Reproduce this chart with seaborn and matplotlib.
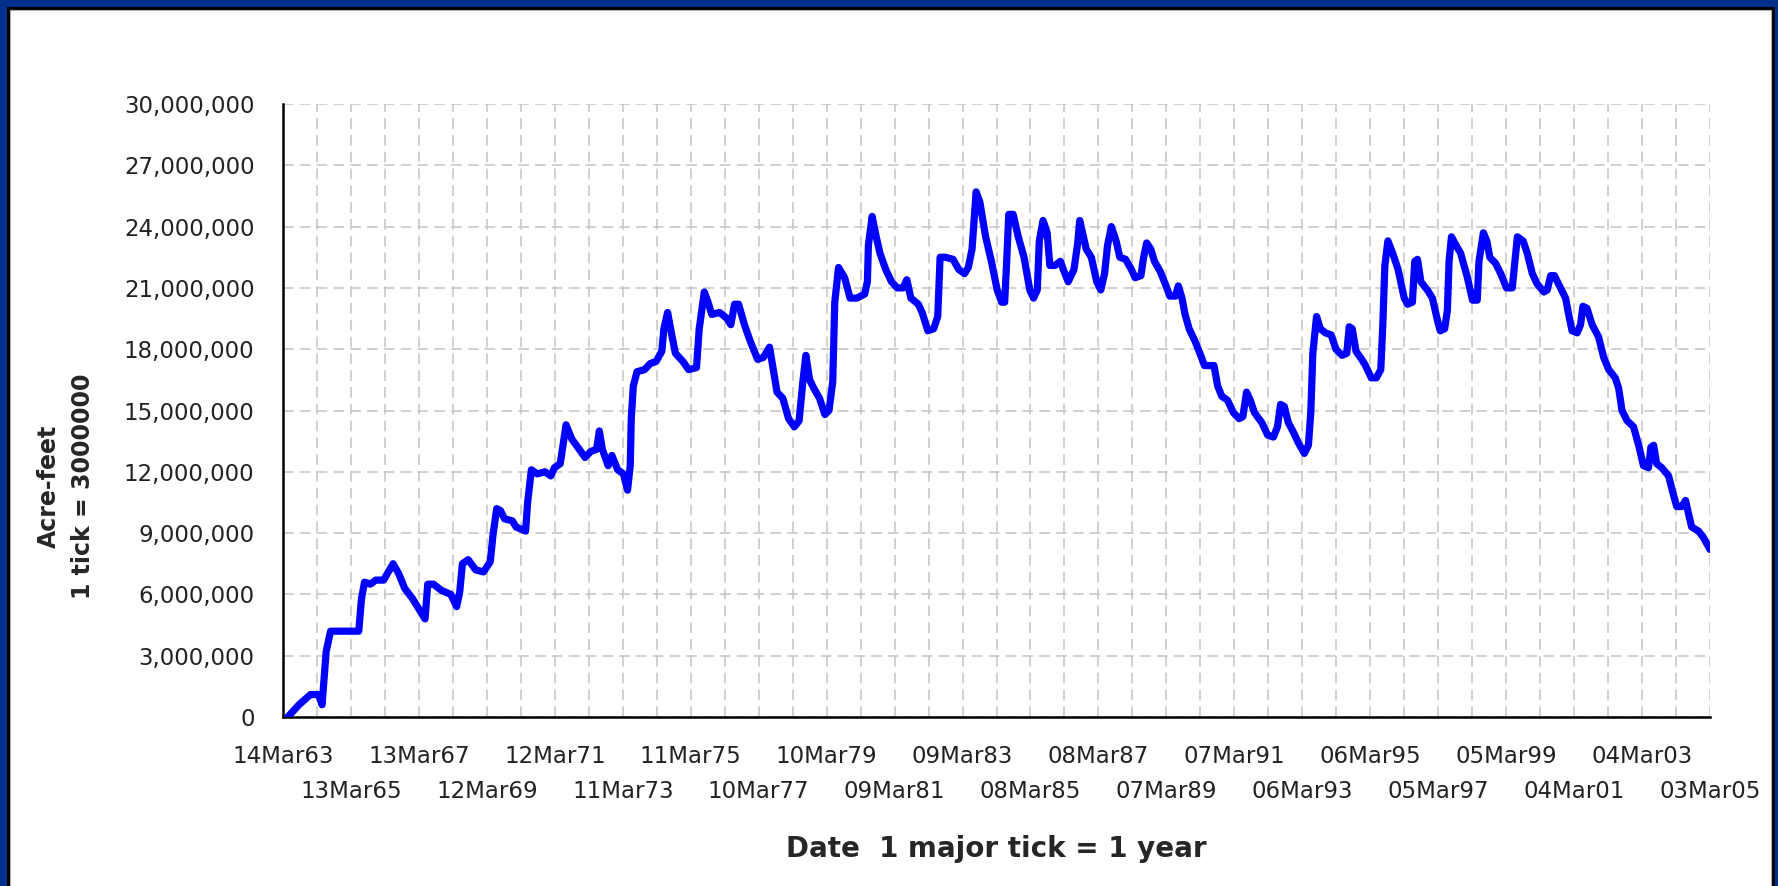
import numpy as np
import pandas as pd
import matplotlib
matplotlib.use("Agg")
import matplotlib.pyplot as plt
import matplotlib.dates as mdates
import matplotlib.ticker as ticker
from matplotlib.patches import Rectangle
import seaborn as sns

# Datos: años desde 14Mar63 y acre-feet (millones)
inicio = "1963-03-14"
anios = [0.14, 0.47, 0.81, 1.04, 1.15, 1.21, 1.27, 1.40, 2.23, 2.31, 2.40, 2.57, 2.73, 2.96,
         3.24, 3.41, 3.58, 3.81, 4.03, 4.18, 4.26, 4.43, 4.66, 4.94, 5.11, 5.20, 5.28, 5.45,
         5.67, 5.90, 6.10, 6.18, 6.29, 6.40, 6.52, 6.75, 6.86, 7.14, 7.20, 7.31, 7.48, 7.71,
         7.88, 7.99, 8.16, 8.33, 8.50, 8.72, 8.89, 9.06, 9.23, 9.31, 9.40, 9.57, 9.68, 9.85,
         10.02, 10.14, 10.22, 10.25, 10.31, 10.42, 10.64, 10.81, 10.98, 11.15, 11.21, 11.32,
         11.43, 11.55, 11.77, 11.94, 12.17, 12.25, 12.40, 12.51, 12.62, 12.85, 13.07, 13.18,
         13.29, 13.41, 13.58, 13.75, 13.97, 14.14, 14.32, 14.43, 14.54, 14.71, 14.88, 15.05,
         15.19, 15.30, 15.39, 15.50, 15.62, 15.79, 15.95, 16.07, 16.18, 16.24, 16.35, 16.53,
         16.69, 16.89, 17.12, 17.20, 17.23, 17.34, 17.46, 17.57, 17.74, 17.91, 18.08, 18.25,
         18.36, 18.48, 18.70, 18.81, 18.98, 19.15, 19.27, 19.34, 19.49, 19.72, 19.89, 20.06,
         20.17, 20.28, 20.40, 20.51, 20.68, 20.85, 21.02, 21.15, 21.24, 21.30, 21.36, 21.49,
         21.64, 21.81, 21.98, 22.09, 22.20, 22.26, 22.37, 22.49, 22.57, 22.72, 22.88, 22.99,
         23.11, 23.28, 23.39, 23.45, 23.56, 23.64, 23.79, 23.95, 24.07, 24.18, 24.27, 24.38,
         24.52, 24.63, 24.80, 24.97, 25.08, 25.25, 25.33, 25.42, 25.54, 25.65, 25.82, 25.99,
         26.10, 26.27, 26.35, 26.46, 26.55, 26.67, 26.84, 27.01, 27.12, 27.40, 27.51, 27.63,
         27.80, 27.97, 28.14, 28.25, 28.36, 28.47, 28.59, 28.81, 28.98, 29.15, 29.27, 29.36,
         29.47, 29.59, 29.72, 29.89, 30.06, 30.18, 30.25, 30.31, 30.42, 30.53, 30.68, 30.85,
         30.99, 31.17, 31.31, 31.38, 31.47, 31.58, 31.75, 31.86, 32.03, 32.18, 32.31, 32.37,
         32.43, 32.52, 32.66, 32.82, 33.00, 33.10, 33.24, 33.31, 33.39, 33.49, 33.68, 33.83,
         33.98, 34.06, 34.19, 34.27, 34.32, 34.39, 34.52, 34.66, 34.86, 35.01, 35.15, 35.20,
         35.33, 35.43, 35.52, 35.69, 35.84, 36.01, 36.18, 36.28, 36.33, 36.50, 36.62, 36.77,
         36.91, 37.11, 37.21, 37.31, 37.42, 37.60, 37.75, 37.84, 37.94, 38.09, 38.19, 38.26,
         38.38, 38.53, 38.72, 38.87, 39.02, 39.21, 39.31, 39.41, 39.56, 39.75, 39.90, 40.04,
         40.19, 40.26, 40.34, 40.43, 40.58, 40.78, 40.92, 41.02, 41.17, 41.28, 41.36, 41.46,
         41.66, 41.80, 42.00]
millones = [0.0, 0.6, 1.1, 1.1, 0.6, 1.9, 3.2, 4.2, 4.2, 5.8, 6.6, 6.5, 6.7, 6.7,
            7.5, 7.0, 6.3, 5.8, 5.2, 4.8, 6.5, 6.5, 6.2, 6.0, 5.4, 6.1, 7.5, 7.7,
            7.2, 7.1, 7.6, 8.9, 10.2, 10.1, 9.7, 9.6, 9.3, 9.1, 10.5, 12.1, 11.9, 12.0,
            11.8, 12.2, 12.4, 14.3, 13.6, 13.1, 12.7, 13.0, 13.1, 14.0, 13.1, 12.3, 12.8, 12.1,
            11.9, 11.1, 12.3, 14.6, 16.2, 16.9, 17.0, 17.3, 17.4, 17.9, 19.0, 19.8,
            18.8, 17.8, 17.4, 17.0, 17.1, 19.0, 20.8, 20.3, 19.7, 19.8, 19.5, 19.2,
            20.2, 20.2, 19.2, 18.4, 17.5, 17.6, 18.1, 17.0, 15.9, 15.6, 14.6, 14.2,
            14.5, 16.4, 17.7, 16.5, 16.1, 15.6, 14.8, 15.0, 16.4, 20.3, 22.0, 21.5,
            20.5, 20.5, 20.7, 21.3, 23.1, 24.5, 23.5, 22.7, 21.9, 21.3, 21.0, 21.0,
            21.4, 20.5, 20.2, 19.8, 18.9, 19.0, 19.6, 22.5, 22.5, 22.4, 21.9, 21.7,
            22.0, 22.9, 25.7, 25.2, 23.5, 22.3, 20.9, 20.3, 20.3, 22.3, 24.6, 24.6,
            23.5, 22.5, 20.9, 20.5, 20.9, 23.3, 24.3, 23.7, 22.1, 22.1, 22.3, 21.8,
            21.3, 21.9, 23.2, 24.3, 23.5, 22.9, 22.5, 21.3, 20.9, 21.7, 23.1, 24.0,
            23.3, 22.5, 22.4, 21.9, 21.5, 21.6, 22.5, 23.2, 22.9, 22.3, 21.8, 21.1,
            20.6, 20.6, 21.1, 20.5, 19.7, 19.0, 18.4, 17.7, 17.2, 17.2, 16.2, 15.7,
            15.5, 14.9, 14.6, 14.7, 15.9, 15.5, 14.9, 14.4, 13.8, 13.7, 14.2, 15.3,
            15.2, 14.4, 14.0, 13.4, 12.9, 13.3, 14.9, 17.8, 19.6, 19.0, 18.8, 18.7,
            18.0, 17.7, 17.8, 19.1, 19.0, 17.9, 17.5, 17.2, 16.6, 16.6, 17.0, 19.2,
            22.1, 23.3, 22.7, 21.9, 20.5, 20.2, 20.3, 22.3, 22.4, 21.3, 20.9, 20.5,
            19.4, 18.9, 19.0, 19.9, 22.3, 23.5, 23.1, 22.7, 21.5, 20.4, 20.4, 22.3,
            23.7, 23.3, 22.5, 22.2, 21.7, 21.0, 21.0, 22.7, 23.5, 23.3, 22.7, 21.7,
            21.2, 20.8, 20.9, 21.6, 21.6, 21.0, 20.5, 19.7, 18.9, 18.8, 19.2, 20.1,
            20.0, 19.2, 18.6, 17.6, 17.0, 16.6, 16.1, 15.0, 14.5, 14.2, 13.3, 12.3,
            12.2, 13.2, 13.3, 12.4, 12.2, 11.8, 10.9, 10.3, 10.3, 10.6, 10.0, 9.3,
            9.1, 8.8, 8.2]

etiquetas_x = ["14Mar63", "13Mar65", "13Mar67", "12Mar69", "12Mar71", "11Mar73",
               "11Mar75", "10Mar77", "10Mar79", "09Mar81", "09Mar83", "08Mar85",
               "08Mar87", "07Mar89", "07Mar91", "06Mar93", "06Mar95", "05Mar97",
               "05Mar99", "04Mar01", "04Mar03", "03Mar05"]
y_ticks = [0, 3000000, 6000000, 9000000, 12000000, 15000000, 18000000,
           21000000, 24000000, 27000000, 30000000]

t0 = pd.Timestamp(inicio)
df = pd.DataFrame({
    "Fecha": t0 + pd.to_timedelta(np.array(anios) * 365, unit="D"),
    "AcreFeet": np.array(millones) * 1e6,
})

# ticks: uno por año (365 dias), etiqueta cada dos
ticks_anio = [t0 + pd.Timedelta(days=365 * k) for k in range(43)]
ticks_mayor = mdates.date2num(ticks_anio[::2])
ticks_menor = mdates.date2num(ticks_anio[1::2])

sns.set_style("white")
plt.rcParams["font.family"] = ["DejaVu Sans"]

fig = plt.figure(figsize=(17.78, 8.86), dpi=100, facecolor="#00308a")
# marco negro + fondo blanco
fig.add_artist(Rectangle((7 / 1778, -0.02), (1775 - 7) / 1778, 1.02 - 7 / 886,
                         transform=fig.transFigure, facecolor="black", edgecolor="none", zorder=0))
fig.add_artist(Rectangle((10 / 1778, -0.02), (1771 - 10) / 1778, 1.02 - 10 / 886,
                         transform=fig.transFigure, facecolor="white", edgecolor="#b0b0b0",
                         linewidth=0.8, zorder=0))

ax = fig.add_axes([0.15917, 0.19074, 0.80259, 0.69187])
ax.set_facecolor("white")

sns.lineplot(data=df, x="Fecha", y="AcreFeet", color="#0000ff", linewidth=5.2,
             estimator=None, ax=ax, zorder=3,
             solid_joinstyle="round", solid_capstyle="round")

ax.set_xlim(mdates.date2num(ticks_anio[0]), mdates.date2num(ticks_anio[-1]))
ax.set_ylim(0, 30000000)

# fila de arriba en el eje principal, fila de abajo en un eje secundario
fila1 = [e if i % 2 == 0 else "" for i, e in enumerate(etiquetas_x)]
ax.set_xticks(ticks_mayor, labels=fila1)
ax.set_xticks(ticks_menor, minor=True)
ax.set_yticks(y_ticks)
ax.yaxis.set_major_formatter(ticker.StrMethodFormatter("{x:,.0f}"))

sec = ax.secondary_xaxis("bottom")
sec.set_xticks(ticks_mayor[1::2], labels=etiquetas_x[1::2])
sec.tick_params(axis="x", length=0, pad=45.5, labelsize=16.5, labelcolor="#222222")
sec.spines["bottom"].set_visible(False)

ax.grid(axis="x", which="both", color="#c4c4c4", linestyle=(0, (7, 4)), linewidth=1.1)
ax.grid(axis="y", which="major", color="#c4c4c4", linestyle=(0, (7, 4)), linewidth=1.1)
ax.set_axisbelow(True)

ax.tick_params(axis="y", length=14, width=1.5, pad=6.5, labelsize=16.5,
               labelcolor="#222222", color="black")
ax.tick_params(axis="x", which="major", length=13.5, width=1.5, pad=6.5,
               labelsize=16.5, labelcolor="#222222", color="black")
ax.tick_params(axis="x", which="minor", length=8, width=1.5, color="black")

for lado in ["top", "right"]:
    ax.spines[lado].set_visible(False)
for lado in ["left", "bottom"]:
    ax.spines[lado].set_color("black")
    ax.spines[lado].set_linewidth(1.8)

ax.set_xlabel("")
ax.set_ylabel("")
fig.text(0.0371, 0.4515, "Acre-feet\n1 tick = 3000000", rotation=90, ha="center",
         va="center", multialignment="center", fontsize=17, fontweight="bold",
         linespacing=1.5)
fig.text(0.5605, 0.0327, "Date  1 major tick = 1 year", ha="center", va="baseline",
         fontsize=20, fontweight="bold")

fig.savefig("out.png", dpi=100, facecolor=fig.get_facecolor())
